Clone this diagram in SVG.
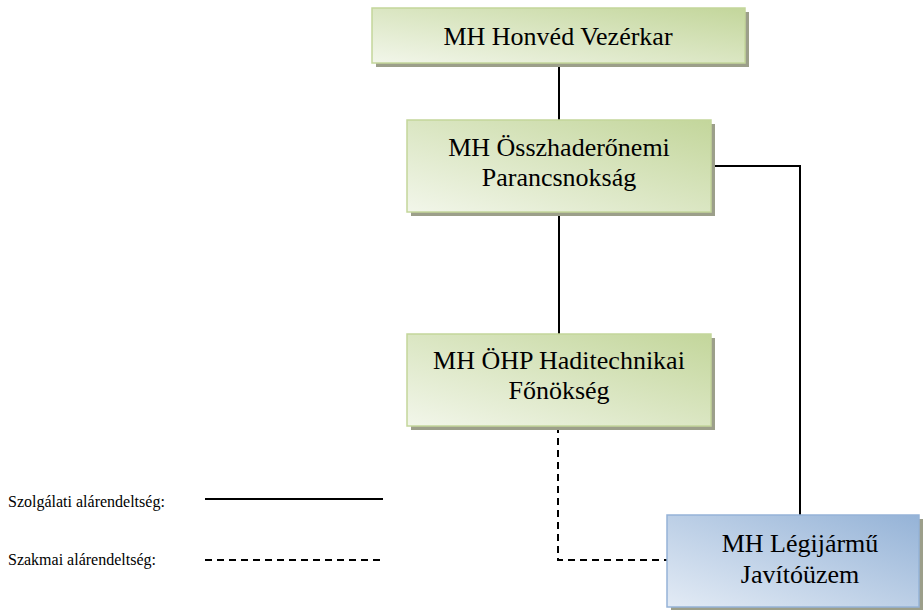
<svg xmlns="http://www.w3.org/2000/svg" width="923" height="610" viewBox="0 0 923 610">
<defs>
<linearGradient id="gGreen" x1="1" y1="0" x2="0" y2="1">
<stop offset="0" stop-color="#c3d69b"/>
<stop offset="1" stop-color="#f2f6ea"/>
</linearGradient>
<linearGradient id="gBlue" x1="1" y1="0" x2="0" y2="1">
<stop offset="0" stop-color="#95b3d7"/>
<stop offset="1" stop-color="#e3ebf5"/>
</linearGradient>
</defs>
<style>
.shadow{fill:#9c9f8a}
.green{fill:url(#gGreen);stroke:#c3d69b;stroke-width:1.5}
.blue{fill:url(#gBlue);stroke:#95b3d7;stroke-width:1.5}
.lbl{font-family:"Liberation Serif","Times New Roman",serif;font-size:26px;fill:#000;text-anchor:middle}
.leg{font-family:"Liberation Serif","Times New Roman",serif;font-size:16px;fill:#000}
.line{fill:none;stroke:#000;stroke-width:2}
.dash{fill:none;stroke:#000;stroke-width:2;stroke-dasharray:7 5}
</style>
<g id="connectors">
<path class="line" d="M559 63 V120"/>
<path class="line" d="M559 212 V334"/>
<path class="line" d="M711 166 H800 V515"/>
<path class="dash" d="M558 426 V560 H667"/>
</g>
<g id="n1">
<rect class="shadow" x="376" y="12" width="373" height="55"/>
<rect class="green" x="372" y="8" width="373" height="55"/>
<text class="lbl" x="558" y="45">MH Honvéd Vezérkar</text>
</g>
<g id="n2">
<rect class="shadow" x="411" y="124" width="304" height="92"/>
<rect class="green" x="407" y="120" width="304" height="92"/>
<text class="lbl" x="559" y="156">MH Összhaderőnemi</text>
<text class="lbl" x="559" y="186">Parancsnokság</text>
</g>
<g id="n3">
<rect class="shadow" x="411" y="338" width="304" height="92"/>
<rect class="green" x="407" y="334" width="304" height="92"/>
<text class="lbl" x="559" y="369">MH ÖHP Haditechnikai</text>
<text class="lbl" x="559" y="399">Főnökség</text>
</g>
<g id="n4">
<rect class="shadow" x="671" y="519" width="252" height="92"/>
<rect class="blue" x="667" y="515" width="252" height="92"/>
<text class="lbl" x="800" y="552">MH Légijármű</text>
<text class="lbl" x="800" y="583">Javítóüzem</text>
</g>
<g id="legend">
<text class="leg" x="8" y="507">Szolgálati alárendeltség:</text>
<path class="line" d="M205 499 H383"/>
<text class="leg" x="8" y="565">Szakmai alárendeltség:</text>
<path class="dash" d="M205 560 H383"/>
</g>
</svg>
